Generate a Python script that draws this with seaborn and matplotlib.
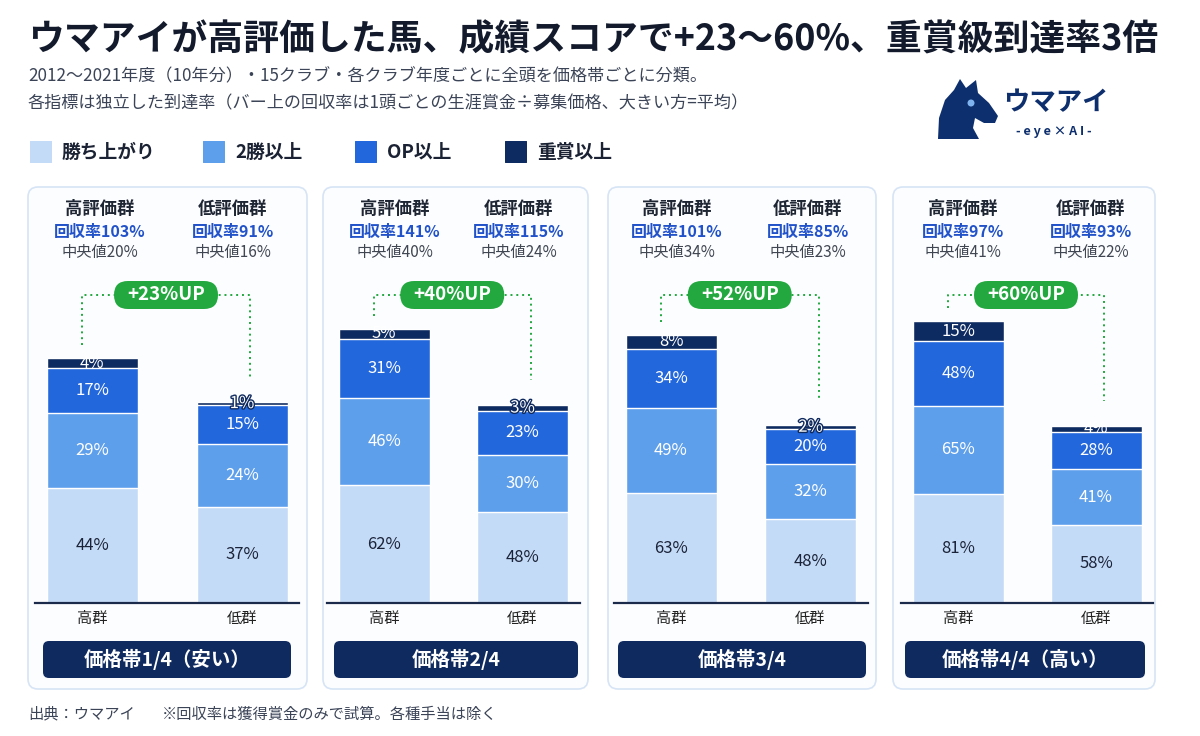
import matplotlib
matplotlib.use("Agg")
import matplotlib.pyplot as plt
from matplotlib.patches import FancyBboxPatch, Polygon, Circle
from matplotlib.transforms import Affine2D
import matplotlib.patheffects as pe

import pandas as pd
import seaborn as sns

# ---- data ----
levels = ["勝ち上がり", "2勝以上", "OP以上", "重賞以上"]
groups = ["高群", "低群"]
price_bands = ["価格帯1/4（安い）", "価格帯2/4", "価格帯3/4", "価格帯4/4（高い）"]

high_rates = [[44, 29, 17, 4], [62, 46, 31, 5], [63, 49, 34, 8], [81, 65, 48, 15]]
low_rates = [[37, 24, 15, 1], [48, 30, 23, 3], [48, 32, 20, 2], [58, 41, 28, 4]]

high_return = [103, 141, 101, 97]
low_return = [91, 115, 85, 93]
high_median = [20, 40, 34, 41]
low_median = [16, 24, 23, 22]
uplift = ["+23%UP", "+40%UP", "+52%UP", "+60%UP"]

title = "ウマアイが高評価した馬、成績スコアで+23〜60%、重賞級到達率3倍"
subtitle_1 = "2012〜2021年度（10年分）・15クラブ・各クラブ年度ごとに全頭を価格帯ごとに分類。"
subtitle_2 = "各指標は独立した到達率（バー上の回収率は1頭ごとの生涯賞金÷募集価格、大きい方=平均）"
footer_src = "出典：ウマアイ"
footer_note = "※回収率は獲得賞金のみで試算。各種手当は除く"

# ---- styling / layout ----
level_colors = ["#c4dbf7", "#5e9fec", "#2367dc", "#0e2b61"]
NAVY = "#0f2a5f"
GREEN = "#22a83e"
W, H = 1200, 736
BASE = 603          # baseline pixel row
AX_TOP = 280
panel_x = [(28, 307), (323, 588), (608, 876), (893, 1155)]
bar_centers = [(92, 242), (384, 522.5), (671, 810.5), (958, 1096)]
high_top_px = [358, 329, 335, 321]
head_x = [(100, 233), (395, 519), (677, 808), (963, 1091)]
navy_box_x = [(43, 291), (334, 578), (618, 866), (905, 1145)]

sns.set_theme(style="white")
plt.rcParams["font.family"] = ["Noto Sans CJK JP", "DejaVu Sans"]

fig = plt.figure(figsize=(W / 100, H / 100), dpi=100)
fig.patch.set_facecolor("white")
T = Affine2D().scale(1 / W, -1 / H).translate(0, 1) + fig.transFigure


def ptext(x, y, s, **kw):
    kw.setdefault("va", "center")
    return fig.text(x, y, s, transform=T, **kw)


def pbox(x0, y0, x1, y1, r, **kw):
    p = FancyBboxPatch((x0, y0), x1 - x0, y1 - y0,
                       boxstyle=f"round,pad=0,rounding_size={r}", transform=T, **kw)
    fig.add_artist(p)
    return p


# header
ptext(28, 40, title, fontsize=25.8, fontweight="bold", color="#121a2c")
ptext(28, 76, subtitle_1, fontsize=12.3, color="#3b4457")
ptext(28, 103, subtitle_2, fontsize=12.3, color="#3b4457")

legend_x = [30, 203, 355, 505]
for lx, name, c in zip(legend_x, levels, level_colors):
    pbox(lx, 141, lx + 22, 163, 0.5, facecolor=c, edgecolor="none")
    ptext(lx + 32, 152, name, fontsize=13.5, fontweight="bold", color="#1b2233")

# logo
horse = [(938, 139), (939, 118), (945, 100), (954, 90), (960, 79), (966, 88),
         (976, 80), (978, 93), (989, 103), (998, 116), (995, 123), (984, 123),
         (975, 118), (973, 128), (979, 139)]
fig.add_artist(Polygon(horse, closed=True, transform=T, facecolor="#0e2f6e", edgecolor="none"))
fig.add_artist(Circle((971, 103), 3.5, transform=T, facecolor="#7fb3f0", edgecolor="none"))
ptext(1003, 103, "ウマアイ", fontsize=19, fontweight="bold", color="#0e2f6e")
ptext(1054, 132, "- e y e × A I -", fontsize=9, fontweight="bold", color="#0e2f6e", ha="center")

for i in range(4):
    hi, lo = high_rates[i], low_rates[i]
    c0, c1 = bar_centers[i]
    d = c1 - c0
    left, right = c0 - 57, c1 + 57

    # panel card
    pbox(panel_x[i][0], 187, panel_x[i][1], 689, 10, facecolor="#fcfdff",
         edgecolor="#d6e4f5", linewidth=1.2, zorder=-2)

    ax = fig.add_axes([left / W, 1 - BASE / H, (right - left) / W, (BASE - AX_TOP) / H])
    ax.set_facecolor("none")

    scale = (BASE - high_top_px[i]) / sum(hi)
    rows = []
    for g, vals in zip(groups, [hi, lo]):
        cum = 0
        for k, v in enumerate(vals):
            cum += v
            rows.append({"group": g, "level": k, "value": v, "cum": cum})
    df = pd.DataFrame(rows)

    # stacked bars: draw cumulative totals from the top level down
    for k in reversed(range(4)):
        sns.barplot(data=df[df["level"] == k], x="group", y="cum", order=groups,
                    color=level_colors[k], saturation=1, width=91 / d,
                    errorbar=None, ax=ax)

    for _, r in df.iterrows():
        gx = groups.index(r["group"])
        ymid = r["cum"] - r["value"] / 2
        col = "#1b2338" if r["level"] == 0 else "white"
        fx = [pe.withStroke(linewidth=2, foreground=NAVY)] if r["value"] < 4 else None
        ax.text(gx, ymid, f"{r['value']}%", ha="center", va="center",
                fontsize=12, color=col, path_effects=fx)

    ax.set_xlim(-57 / d, 1 + 57 / d)
    ax.set_ylim(0, (BASE - AX_TOP) / scale)
    ax.set_xlabel("")
    ax.set_ylabel("")
    ax.set_yticks([])
    for s in ["left", "right", "top"]:
        ax.spines[s].set_visible(False)
    ax.spines["bottom"].set_color("#1b2a4a")
    ax.spines["bottom"].set_linewidth(1.6)
    ax.tick_params(axis="x", length=0, pad=5, labelsize=11, labelcolor="#222")

    # group header text
    hx, lx = head_x[i]
    ptext(hx, 209, "高評価群", fontsize=12.5, fontweight="bold", color="#1e2533", ha="center")
    ptext(lx, 209, "低評価群", fontsize=12.5, fontweight="bold", color="#1e2533", ha="center")
    ptext(hx, 232, f"回収率{high_return[i]}%", fontsize=11.5, fontweight="bold", color="#2152c9", ha="center")
    ptext(lx, 232, f"回収率{low_return[i]}%", fontsize=11.5, fontweight="bold", color="#2152c9", ha="center")
    ptext(hx, 253, f"中央値{high_median[i]}%", fontsize=11, color="#404652", ha="center")
    ptext(lx, 253, f"中央値{low_median[i]}%", fontsize=11, color="#404652", ha="center")

    # bracket + badge
    top_hi = BASE - sum(hi) * scale
    top_lo = BASE - sum(lo) * scale
    xl, xr = c0 - 10, c1 + 8
    bx = (xl + xr) / 2
    dots = dict(color=GREEN, linewidth=1.4, linestyle=(0, (1, 2)), transform=T)
    fig.add_artist(plt.Line2D([xl, xl, xr, xr], [top_hi - 13, 295, 295, top_lo - 25], **dots))
    pbox(bx - 52, 281, bx + 52, 309, 14, facecolor=GREEN, edgecolor="none", zorder=3)
    ptext(bx, 295, uplift[i], fontsize=13.5, fontweight="bold", color="white", ha="center", zorder=4)

    # price band label
    bx0, bx1 = navy_box_x[i]
    pbox(bx0, 641, bx1, 678, 6, facecolor=NAVY, edgecolor="none")
    ptext((bx0 + bx1) / 2, 659.5, price_bands[i], fontsize=14, fontweight="bold", color="white", ha="center")

ptext(28, 714, footer_src, fontsize=11, color="#3b4457")
ptext(162, 714, footer_note, fontsize=11, color="#3b4457")

fig.savefig("out.png", dpi=100, facecolor="white")
